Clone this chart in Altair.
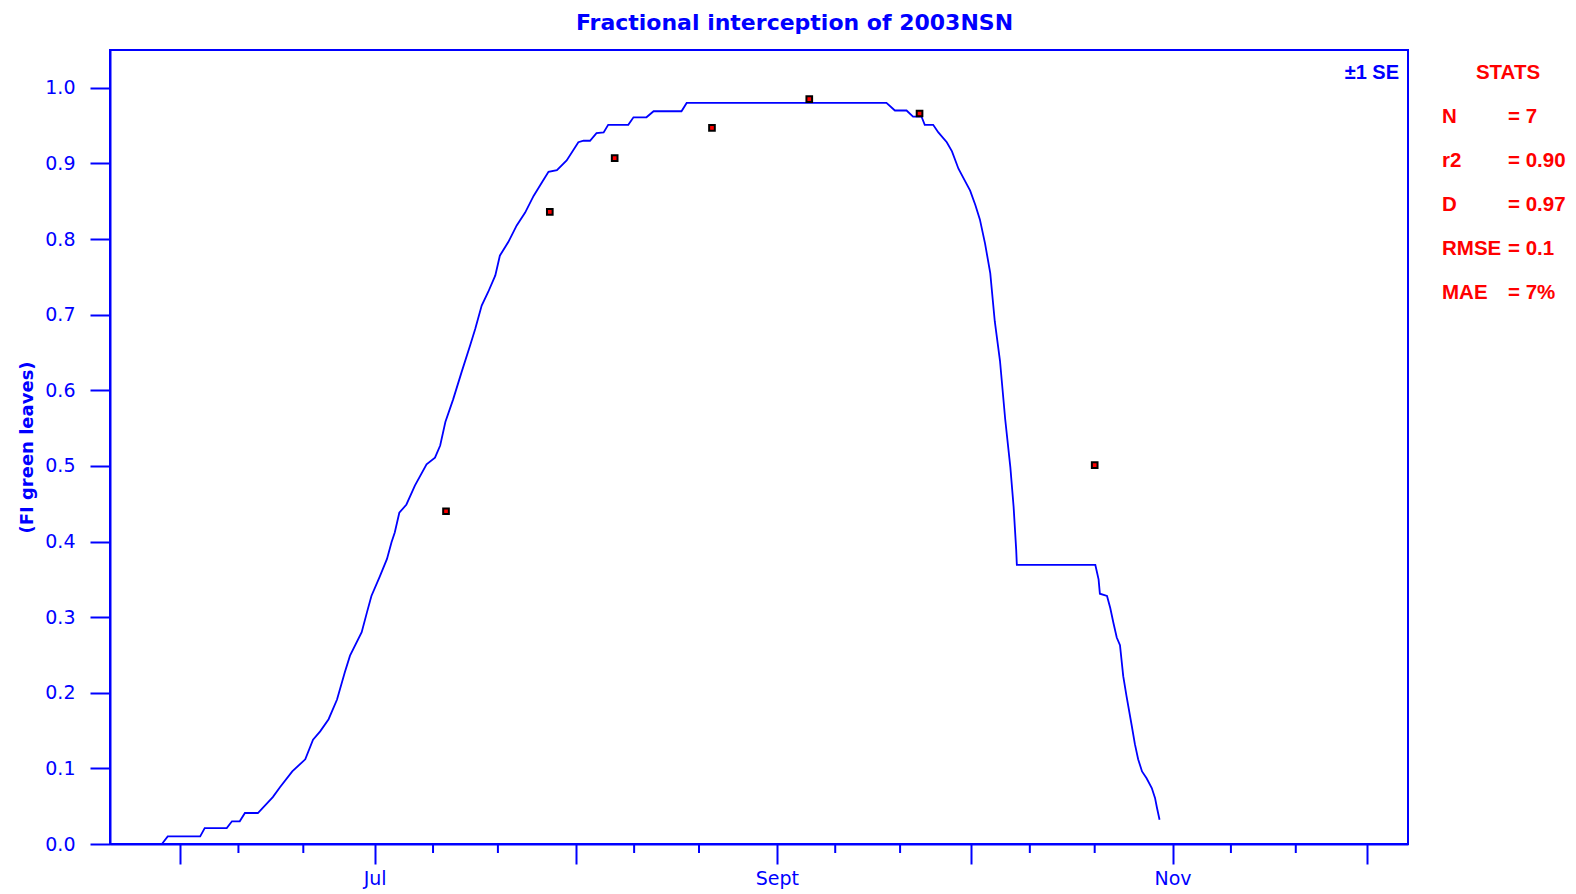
import altair as alt
import pandas as pd

# ---- data ----
line_doy = [149.2, 150.1, 155.1, 155.8, 159.2, 160.0, 161.2, 162.0, 164.0, 166.3,
            167.4, 169.3, 171.3, 172.5, 173.6, 174.9, 176.2, 177.4, 178.2, 180.0,
            180.8, 181.5, 182.8, 183.9, 184.6, 185.1, 185.8, 186.9, 188.2, 190.0,
            191.3, 192.1, 192.9, 194.1, 195.4, 196.7, 197.5, 198.5, 199.5, 200.6,
            201.3, 202.6, 203.9, 205.2, 206.5, 207.8, 208.8, 210.1, 211.6, 213.4,
            214.2, 215.2, 216.2, 217.3, 218.0, 221.1, 221.9, 223.9, 225.0, 229.3,
            230.1, 260.9, 262.2, 264.0, 265.0, 266.3, 266.8, 268.1, 268.9, 270.2,
            271.0, 272.0, 273.0, 273.8, 274.6, 275.3, 276.1, 276.9, 277.6, 278.4,
            279.2, 280.0, 280.5, 280.9, 281.0, 293.1, 293.6, 293.8, 294.9, 295.4,
            295.9, 296.4, 296.9, 297.4, 297.9, 298.7, 299.2, 299.7, 300.3, 301.0,
            301.8, 302.3, 302.6, 303.0]
line_fi = [0.000, 0.010, 0.010, 0.021, 0.021, 0.030, 0.030, 0.041, 0.041, 0.062,
           0.075, 0.096, 0.112, 0.138, 0.149, 0.165, 0.191, 0.227, 0.249, 0.280,
           0.306, 0.328, 0.354, 0.377, 0.399, 0.412, 0.438, 0.449, 0.474, 0.502,
           0.511, 0.527, 0.558, 0.588, 0.624, 0.659, 0.681, 0.712, 0.730, 0.752,
           0.778, 0.796, 0.818, 0.835, 0.857, 0.875, 0.889, 0.891, 0.904, 0.928,
           0.930, 0.930, 0.940, 0.941, 0.951, 0.951, 0.961, 0.961, 0.969, 0.969,
           0.980, 0.980, 0.970, 0.970, 0.962, 0.962, 0.951, 0.951, 0.941, 0.928,
           0.916, 0.893, 0.877, 0.864, 0.845, 0.826, 0.794, 0.755, 0.691, 0.639,
           0.562, 0.498, 0.446, 0.389, 0.369, 0.369, 0.350, 0.331, 0.328, 0.312,
           0.292, 0.273, 0.263, 0.222, 0.196, 0.157, 0.132, 0.112, 0.096, 0.087,
           0.074, 0.061, 0.048, 0.032]

obs_doy = [193, 209, 219, 234, 249, 266, 293]
obs_fi = [0.440, 0.836, 0.907, 0.947, 0.985, 0.966, 0.501]

month_tick_doy = [152, 182, 213, 244, 274, 305, 335]
month_tick_label = ["", "Jul", "", "Sept", "", "Nov", ""]
minor_tick_doy = [161, 171, 191, 201, 222, 232, 253, 263, 283, 293, 314, 324]
y_ticks = [0.0, 0.1, 0.2, 0.3, 0.4, 0.5, 0.6, 0.7, 0.8, 0.9, 1.0]

title_text = "Fractional interception of 2003NSN"
y_title = "(FI green leaves)"
se_text = "\u00b11 SE"
stats_header = "STATS"
stat_names = ["N", "r2", "D", "RMSE", "MAE"]
stat_values = ["= 7", "= 0.90", "= 0.97", "= 0.1", "= 7%"]

BLUE = "#0000ff"
RED = "#ff0000"
FONT = "DejaVu Sans"
FONT2 = "Liberation Sans"
W, H = 1298, 794

x_scale = alt.Scale(domain=[141.2, 341.3], nice=False, zero=False)
y_scale = alt.Scale(domain=[0, 1.05], nice=False, zero=True)

label_expr = " : ".join(
    f"datum.value == {d} ? '{l}'" for d, l in zip(month_tick_doy, month_tick_label) if l
) + " : ''"

x_axis = alt.Axis(values=month_tick_doy, labelExpr=label_expr, title=None, grid=False,
                  tickSize=20, tickWidth=2, tickColor=BLUE, domainColor=BLUE, domainWidth=2,
                  labelColor=BLUE, labelFont=FONT, labelFontSize=19, labelPadding=5,
                  labelOverlap=False, labelFlush=False)
y_axis = alt.Axis(values=y_ticks, format=".1f", title=y_title, grid=False,
                  tickSize=20, tickWidth=2, tickColor=BLUE, domainColor=BLUE, domainWidth=2,
                  labelColor=BLUE, labelFont=FONT, labelFontSize=19, labelPadding=15,
                  labelOverlap=False, labelFlush=False,
                  titleColor=BLUE, titleFont=FONT, titleFontSize=18, titleFontWeight="bold",
                  titleAngle=270, titleX=-83, titleY=H / 2, titleAlign="center",
                  titleBaseline="middle")

line_df = pd.DataFrame({"doy": line_doy, "fi": line_fi})
obs_df = pd.DataFrame({"doy": obs_doy, "fi": obs_fi})
minor_df = pd.DataFrame({"doy": minor_tick_doy})

line = alt.Chart(line_df).mark_line(color=BLUE, strokeWidth=1.8).encode(
    x=alt.X("doy:Q", scale=x_scale, axis=x_axis),
    y=alt.Y("fi:Q", scale=y_scale, axis=y_axis),
)

points = alt.Chart(obs_df).mark_square(size=32, fill=RED, stroke="black", strokeWidth=2,
                                       opacity=1).encode(
    x=alt.X("doy:Q", scale=x_scale),
    y=alt.Y("fi:Q", scale=y_scale),
)

minor = alt.Chart(minor_df).mark_rule(color=BLUE, strokeWidth=2).encode(
    x=alt.X("doy:Q", scale=x_scale),
    y=alt.value(H),
    y2=alt.value(H + 9),
)


def txt(s, x, y, size, color, font=FONT, weight="bold", align="left"):
    return alt.Chart(pd.DataFrame({"t": [s]})).mark_text(
        font=font, fontSize=size, fontWeight=weight, color=color, align=align,
        baseline="alphabetic"
    ).encode(x=alt.value(x), y=alt.value(y), text="t:N")


texts = [
    txt(title_text, 684.5, -20, 22, BLUE, align="center"),
    txt(se_text, 1289, 29, 20, BLUE, font=FONT2, align="right"),
    txt(stats_header, 1398, 29, 20.5, RED, font=FONT2, align="center"),
]
for i, (n, v) in enumerate(zip(stat_names, stat_values)):
    yy = 73 + 44 * i
    texts.append(txt(n, 1332, yy, 20.5, RED, font=FONT2))
    texts.append(txt(v, 1398, yy, 20.5, RED, font=FONT2))

chart = alt.layer(line, minor, points, *texts).properties(
    width=W, height=H,
    autosize=alt.AutoSizeParams(type="none"),
    padding={"left": 110, "top": 50, "right": 168, "bottom": 50},
    background="white",
).configure_view(stroke=BLUE, strokeWidth=2)

chart.save("out.html", embed_options={"renderer": "svg", "actions": False})
